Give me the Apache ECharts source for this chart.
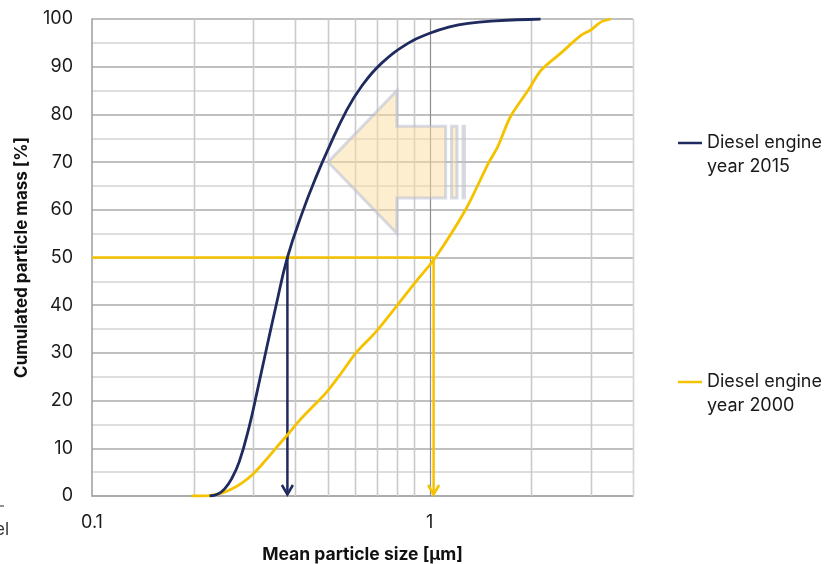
<!DOCTYPE html>
<html>
<head>
<meta charset="utf-8">
<script src="https://cdn.jsdelivr.net/npm/echarts@6/dist/echarts.min.js"></script>
<style>
  html, body { margin: 0; padding: 0; background: #ffffff; }
  #chart { width: 827px; height: 564px; }
</style>
</head>
<body>
<div id="chart"></div>
<script>
// Particle size distribution (cumulative mass) for two diesel engine generations.
const xTickLabels = ['0.1', '1'];
const gridSizes = [0.2, 0.3, 0.4, 0.5, 0.6, 0.7, 0.8, 0.9, 1, 2, 3, 4];

const size2015 = [0.223, 0.236, 0.247, 0.259, 0.273, 0.292, 0.309, 0.328, 0.351, 0.379, 0.419, 0.461, 0.504, 0.565, 0.63, 0.722, 0.867, 1.0, 1.138, 1.3, 1.57, 2.13];
const mass2015 = [0, 0.4, 1.5, 3.6, 7.2, 14.5, 22.2, 30.6, 40, 50, 59.3, 66.9, 73.2, 80.6, 86.0, 90.8, 95, 97, 98.3, 99.1, 99.6, 100];

const size2000 = [0.197, 0.222, 0.242, 0.26, 0.279, 0.3, 0.325, 0.35, 0.38, 0.41, 0.45, 0.493, 0.55, 0.605, 0.693, 0.794, 0.909, 1.04, 1.277, 1.493, 1.59, 1.734, 1.959, 2.14, 2.45, 2.81, 3.0, 3.22, 3.44];
const mass2000 = [0, 0.1, 0.6, 1.5, 2.8, 4.6, 7.3, 10.0, 12.9, 15.7, 18.7, 21.6, 26.0, 30, 34.4, 39.6, 44.9, 50, 60, 69.8, 73.2, 79.5, 85.1, 89.3, 92.9, 96.6, 97.7, 99.4, 100];

// Median diameters (50 % of cumulated mass)
const medianLevel = 50;
const median2015 = 0.379;
const median2000 = 1.027;

const NAME_2015 = 'Diesel engine year 2015';
const NAME_2000 = 'Diesel engine year 2000';
const NAVY = '#1f2a5e';
const GOLD = '#f5c200';
const X_MIN = 0.1, X_MAX = 4;
const FONT = 'Inter, "Liberation Sans", Arial, sans-serif';

const zip = (xs, ys) => xs.map((x, i) => [x, ys[i]]);

// Vertical grid lines of the logarithmic size axis
function gridLineItem(params, api) {
  const v = api.value(0);
  const a = api.coord([v, 0]);
  const b = api.coord([v, 100]);
  const decade = Math.abs(Math.log10(v) - Math.round(Math.log10(v))) < 1e-9;
  const edge = Math.abs(v - X_MAX) < 1e-9;
  return {
    type: 'line',
    shape: { x1: Math.round(a[0]) + 0.5, y1: a[1], x2: Math.round(b[0]) + 0.5, y2: b[1] },
    style: { stroke: decade ? '#8e8e8e' : (edge ? '#d4d4d4' : '#cacaca'), lineWidth: decade ? 1.2 : 1.6 }
  };
}

// Shift arrow pointing towards smaller particles (outline given in axis units)
function shiftArrowItem(params, api) {
  const outline = [[0.5, 70], [0.8, 85], [0.8, 77.5], [1.115, 77.5], [1.115, 62.5], [0.8, 62.5], [0.8, 55]];
  const strips = [[1.16, 1.205], [1.255, 1.268]];
  const style = { fill: 'rgba(252,222,160,0.5)', stroke: 'rgba(178,183,210,0.5)', lineWidth: 3, lineJoin: 'miter' };
  const children = [{ type: 'polygon', shape: { points: outline.map(p => api.coord(p)) }, style }];
  strips.forEach(([x0, x1]) => {
    children.push({
      type: 'polygon',
      shape: { points: [api.coord([x0, 77.5]), api.coord([x1, 77.5]), api.coord([x1, 62.5]), api.coord([x0, 62.5])] },
      style
    });
  });
  return { type: 'group', children };
}

// Median marker: optional horizontal rule from the axis, then a drop line with an open arrow head
function medianGuideItem(params, api) {
  const x = api.value(0), lvl = api.value(1), withRule = api.value(2);
  const color = api.visual('color');
  const top = api.coord([x, lvl]);
  const bot = api.coord([x, 0]);
  const left = api.coord([X_MIN, lvl]);
  const style = { stroke: color, lineWidth: 2.5, fill: null, lineJoin: 'miter' };
  const children = [];
  if (withRule) {
    children.push({ type: 'line', shape: { x1: left[0], y1: top[1], x2: top[0], y2: top[1] }, style });
  }
  children.push({ type: 'line', shape: { x1: top[0], y1: top[1], x2: bot[0], y2: bot[1] - 1.5 }, style });
  children.push({
    type: 'polyline',
    shape: { points: [[bot[0] - 5.5, bot[1] - 11], [bot[0], bot[1] - 1.5], [bot[0] + 5.5, bot[1] - 11]] },
    style
  });
  return { type: 'group', children };
}

// Legend key sits level with the first line of its two-line caption
const legendBase = {
  orient: 'vertical',
  left: 678,
  padding: 0,
  itemWidth: 24,
  itemHeight: 2.5,
  icon: 'rect',
  selectedMode: false,
  formatter: name => '\n' + name.replace(' year', '\nyear'),
  textStyle: { fontFamily: FONT, fontSize: 18, lineHeight: 24, color: '#1a1a1a' }
};

const chart = echarts.init(document.getElementById('chart'), null, { renderer: 'canvas' });
chart.setOption({
  animation: false,
  backgroundColor: '#ffffff',
  textStyle: { fontFamily: FONT },
  grid: { left: 92, right: 194, top: 19, bottom: 68, containLabel: false, outerBoundsMode: 'none' },
  legend: [
    Object.assign({}, legendBase, { top: 107, data: [NAME_2015] }),
    Object.assign({}, legendBase, { top: 346, data: [NAME_2000] })
  ],
  xAxis: {
    type: 'log',
    logBase: 10,
    min: X_MIN,
    max: X_MAX,
    name: 'Mean particle size [µm]',
    nameLocation: 'middle',
    nameGap: 50,
    nameTextStyle: { fontFamily: FONT, fontSize: 17.5, fontWeight: 'bold', color: '#111' },
    axisLine: { show: true, lineStyle: { color: '#a4a4a4', width: 1.5 } },
    axisTick: { show: false },
    splitLine: { show: false },
    axisLabel: {
      margin: 18,
      fontSize: 18,
      color: '#1a1a1a',
      showMaxLabel: false,
      formatter: v => {
        const hit = xTickLabels.find(t => Math.abs(parseFloat(t) - v) < 1e-9);
        return hit || '';
      }
    }
  },
  yAxis: {
    type: 'value',
    min: 0,
    max: 100,
    interval: 10,
    name: 'Cumulated particle mass [%]',
    nameLocation: 'middle',
    nameGap: 62,
    nameRotate: 90,
    nameTextStyle: { fontFamily: FONT, fontSize: 17, fontWeight: 'bold', color: '#111' },
    axisLine: { show: true, lineStyle: { color: '#9c9c9c', width: 1.5 } },
    axisTick: { show: false },
    axisLabel: { margin: 19, fontSize: 18, color: '#1a1a1a' },
    splitLine: { show: true, lineStyle: { color: '#ababab', width: 1.5 } },
    minorTick: { show: false, splitNumber: 2 },
    minorSplitLine: { show: true, lineStyle: { color: '#d4d4d4', width: 1.5 } }
  },
  series: [
    {
      type: 'custom',
      name: 'grid',
      silent: true,
      z: 1,
      renderItem: gridLineItem,
      encode: { x: 0 },
      data: gridSizes.map(v => [v])
    },
    {
      type: 'custom',
      name: 'shift',
      silent: true,
      z: 2,
      renderItem: shiftArrowItem,
      data: [[0.5, 70]],
      encode: { x: 0, y: 1 }
    },
    {
      type: 'custom',
      name: 'median2000',
      silent: true,
      z: 3,
      itemStyle: { color: GOLD },
      renderItem: medianGuideItem,
      encode: { x: 0, y: 1 },
      data: [[median2000, medianLevel, 1]]
    },
    {
      type: 'custom',
      name: 'median2015',
      silent: true,
      z: 3,
      itemStyle: { color: NAVY },
      renderItem: medianGuideItem,
      encode: { x: 0, y: 1 },
      data: [[median2015, medianLevel, 0]]
    },
    {
      type: 'line',
      name: NAME_2000,
      z: 4,
      smooth: 0.3,
      showSymbol: false,
      symbol: 'none',
      color: GOLD,
      lineStyle: { color: GOLD, width: 2.8 },
      data: zip(size2000, mass2000)
    },
    {
      type: 'line',
      name: NAME_2015,
      z: 5,
      smooth: 0.45,
      showSymbol: false,
      symbol: 'none',
      color: NAVY,
      lineStyle: { color: NAVY, width: 2.8 },
      data: zip(size2015, mass2015)
    }
  ],
  graphic: [
    // clipped neighbour caption at the left margin
    { type: 'text', x: 9, y: 530, style: { text: 'Diesel', fontFamily: FONT, fontSize: 17, fill: '#333', align: 'right', verticalAlign: 'middle' } },
    { type: 'line', shape: { x1: 0, y1: 506, x2: 4, y2: 506 }, style: { stroke: '#555', lineWidth: 1.3 } }
  ]
});
</script>
</body>
</html>
